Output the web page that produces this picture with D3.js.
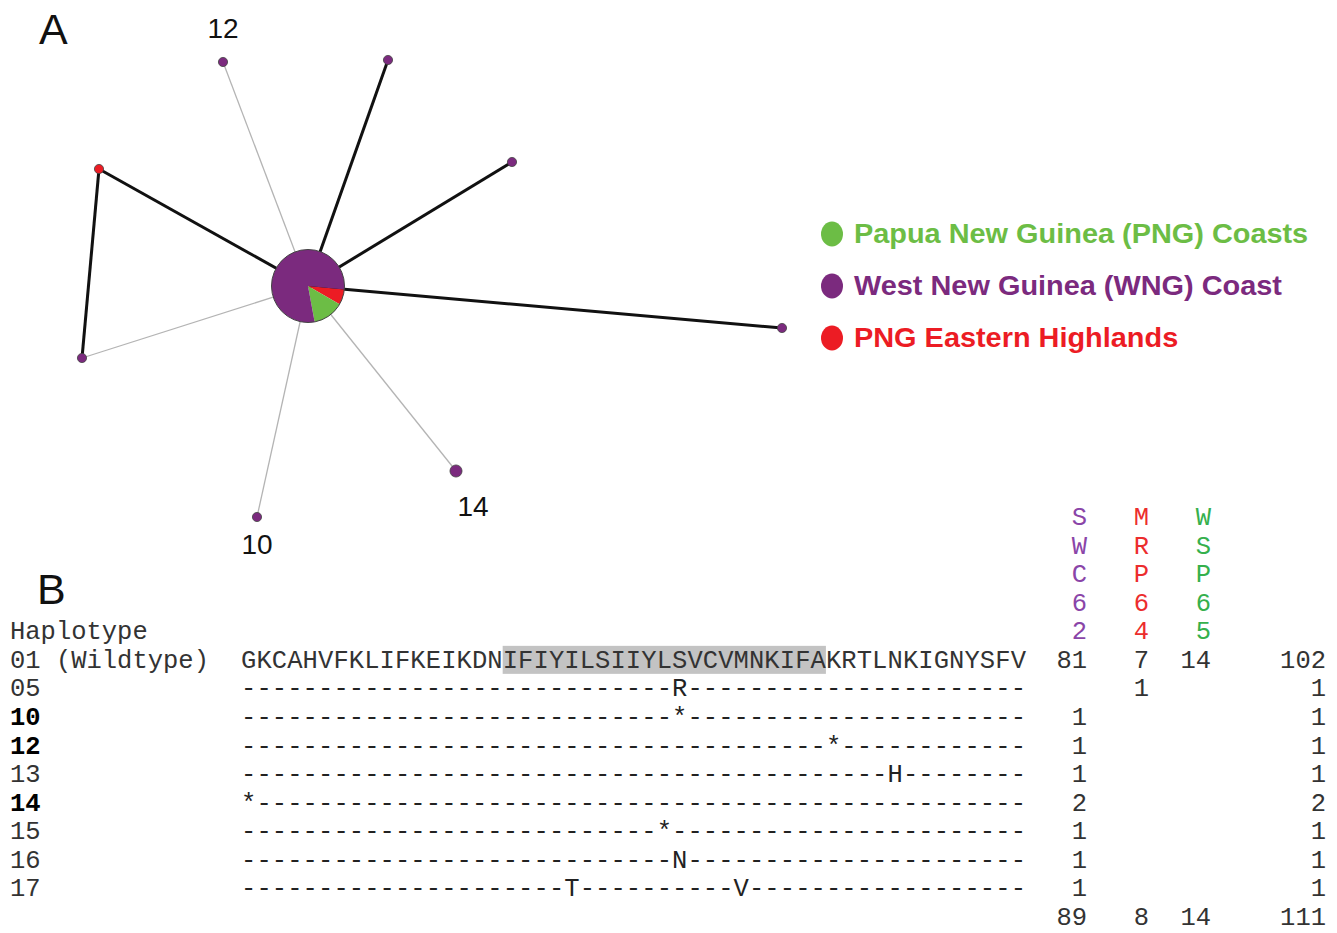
<!DOCTYPE html>
<html>
<head>
<meta charset="utf-8">
<script src="https://cdn.jsdelivr.net/npm/d3@7"></script>
<style>
  body { margin: 0; background: #fff; }
  svg { display: block; }
</style>
</head>
<body>
<svg id="chart" width="1337" height="933"></svg>
<script>
// ---- network data (layout units, hub at origin) ----
const nodeIds   = ['01', '12', '13', '15', '05', '16', '17', '14', '10'];
const nodeLx    = [0, -85, 80, 204, -209, -226, 474, 148, -51];
const nodeLy    = [0, -224, -226, -124, -117, 72, 42, 185, 231];
const nodeSWC   = [81, 1, 1, 1, 0, 1, 1, 2, 1];
const nodeMRP   = [7, 0, 0, 0, 1, 0, 0, 0, 0];
const nodeWSP   = [14, 0, 0, 0, 0, 0, 0, 0, 0];
const labelled  = ['12', '14', '10'];

const edgeFrom  = ['01', '01', '01', '01', '05', '16', '01', '01', '01'];
const edgeTo    = ['12', '13', '15', '05', '16', '01', '17', '14', '10'];
const edgeKind  = ['thin', 'thick', 'thick', 'thick', 'thick', 'thin', 'thick', 'thin', 'thin'];

const regions   = ['Papua New Guinea (PNG) Coasts', 'West New Guinea (WNG) Coast', 'PNG Eastern Highlands'];
const regionCol = ['#6cbd45', '#7b2a7e', '#ec1c24'];

// ---- alignment data ----
const wildtype  = 'GKCAHVFKLIFKEIKDNIFIYILSIIYLSVCVMNKIFAKRTLNKIGNYSFV';
const tmStart   = 17, tmEnd = 38;
const hapIds    = ['05', '10', '12', '13', '14', '15', '16', '17'];
const hapBold   = [false, true, true, false, true, false, false, false];
const hapMuts   = [[[28, 'R']], [[28, '*']], [[38, '*']], [[42, 'H']], [[0, '*']], [[27, '*']], [[28, 'N']], [[21, 'T'], [32, 'V']]];
const colNames  = ['SWC62', 'MRP64', 'WSP65'];
const colColors = ['#8a45a8', '#ec2d2d', '#35b04c'];
const wildCounts = [81, 7, 14, 102];
const hapSWC    = [null, 1, 1, 1, 2, 1, 1, 1];
const hapMRP    = [1, null, null, null, null, null, null, null];
const hapWSP    = [null, null, null, null, null, null, null, null];
const hapTotal  = [1, 1, 1, 1, 2, 1, 1, 1];
const colTotals = [89, 8, 14, 111];

const svg = d3.select('#chart');
const sans = 'Arial, "Liberation Sans", sans-serif';
const mono = '"Courier New", "Liberation Mono", monospace';

// ---------------- Panel A ----------------
const x = d3.scaleLinear().domain([-300, 500]).range([8, 808]);
const y = d3.scaleLinear().domain([-300, 300]).range([-14, 586]);
const r = d3.scaleSqrt().domain([1, 102]).range([4.6, 36.5]);

const nodes = nodeIds.map((id, i) => ({
  id, x: x(nodeLx[i]), y: y(nodeLy[i]),
  counts: [nodeWSP[i], nodeSWC[i], nodeMRP[i]],
  total: nodeSWC[i] + nodeMRP[i] + nodeWSP[i]
}));
const byId = new Map(nodes.map(n => [n.id, n]));
const edges = edgeFrom.map((f, i) => ({ s: byId.get(f), t: byId.get(edgeTo[i]), kind: edgeKind[i] }));

const gA = svg.append('g');
gA.selectAll('line.edge')
  .data(edges)
  .join('line')
  .attr('class', 'edge')
  .attr('x1', d => d.s.x).attr('y1', d => d.s.y)
  .attr('x2', d => d.t.x).attr('y2', d => d.t.y)
  .attr('stroke', d => d.kind === 'thick' ? '#111' : '#b4b4b4')
  .attr('stroke-width', d => d.kind === 'thick' ? 3 : 1.3);

// pie: red, green, then purple, starting just below 3 o'clock
const pie = d3.pie().sort(null).value(d => d.v)
  .startAngle(Math.PI * 0.53).endAngle(Math.PI * 0.53 + 2 * Math.PI);

const nodeG = gA.selectAll('g.node')
  .data(nodes)
  .join('g')
  .attr('class', 'node')
  .attr('transform', d => `translate(${d.x},${d.y})`);

nodeG.each(function(d) {
  const g = d3.select(this);
  const rad = r(d.total);
  const parts = [
    { v: d.counts[2], c: regionCol[2] },
    { v: d.counts[0], c: regionCol[0] },
    { v: d.counts[1], c: regionCol[1] }
  ].filter(p => p.v > 0);
  if (parts.length === 1) {
    g.append('circle').attr('r', rad).attr('fill', parts[0].c)
      .attr('stroke', '#444').attr('stroke-width', 0.8);
  } else {
    const arc = d3.arc().innerRadius(0).outerRadius(rad);
    g.selectAll('path').data(pie(parts)).join('path')
      .attr('d', arc).attr('fill', p => p.data.c);
    g.append('circle').attr('r', rad).attr('fill', 'none')
      .attr('stroke', '#444').attr('stroke-width', 1);
  }
});

// node labels
const labelOffset = { '12': [0, -24], '14': [17, 45], '10': [0, 37] };
gA.selectAll('text.nlab')
  .data(nodes.filter(n => labelled.includes(n.id)))
  .join('text')
  .attr('class', 'nlab')
  .attr('x', d => d.x + labelOffset[d.id][0])
  .attr('y', d => d.y + labelOffset[d.id][1])
  .attr('text-anchor', 'middle')
  .attr('font-family', sans).attr('font-size', 28)
  .attr('fill', '#111')
  .text(d => d.id);

svg.append('text').attr('x', 39).attr('y', 44)
  .attr('font-family', sans).attr('font-size', 43).attr('fill', '#111').text('A');

// legend (text in the figure is slightly stretched horizontally)
const legY = d3.scaleBand().domain(regions).range([208, 364]);
const leg = svg.append('g').selectAll('g').data(regions).join('g')
  .attr('transform', (d, i) => `translate(0,${legY(d) + legY.bandwidth() / 2})`);
leg.append('ellipse').attr('cx', 832).attr('cy', 0).attr('rx', 11).attr('ry', 12.5)
  .attr('fill', (d, i) => regionCol[i]);
leg.append('text')
  .attr('transform', 'translate(854,9) scale(1.07,1)')
  .attr('font-family', sans).attr('font-weight', 'bold').attr('font-size', 27)
  .attr('fill', (d, i) => regionCol[i])
  .text(d => d);

// ---------------- Panel B ----------------
svg.append('text').attr('x', 37).attr('y', 604)
  .attr('font-family', sans).attr('font-size', 43).attr('fill', '#111').text('B');

const rowY = d3.scaleLinear().domain([0, 14]).range([517, 917]); // row centres
const charX = d3.scaleLinear().domain([0, wildtype.length]).range([241, 1026]);
const fs = 25.5;
const base = 8; // centre -> baseline

const gB = svg.append('g').attr('font-family', mono).attr('font-size', fs);

// highlighted transmembrane block
gB.append('rect')
  .attr('x', charX(tmStart)).attr('width', charX(tmEnd) - charX(tmStart))
  .attr('y', rowY(5) - 14).attr('height', 28)
  .attr('fill', '#c3c3c3');

gB.append('text').attr('x', 10).attr('y', rowY(4) + base).attr('fill', '#333').text('Haplotype');
gB.append('text').attr('x', 10).attr('y', rowY(5) + base).attr('fill', '#333')
  .style('white-space', 'pre').text('01 (Wildtype)');

const wtChars = wildtype.split('');
gB.append('g').selectAll('text').data(wtChars).join('text')
  .attr('x', (c, i) => charX(i + 0.5)).attr('y', rowY(5) + base)
  .attr('text-anchor', 'middle').attr('fill', '#333')
  .text(c => c);

hapIds.forEach((id, k) => {
  const row = 6 + k;
  gB.append('text').attr('x', 10).attr('y', rowY(row) + base)
    .attr('fill', hapBold[k] ? '#000' : '#333')
    .attr('font-weight', hapBold[k] ? 'bold' : 'normal')
    .text(id);
  const muts = new Map(hapMuts[k]);
  const chars = wtChars.map((c, i) => muts.has(i) ? muts.get(i) : '-');
  gB.append('g').selectAll('text').data(chars).join('text')
    .attr('x', (c, i) => charX(i + 0.5)).attr('y', rowY(row) + base)
    .attr('text-anchor', 'middle').attr('fill', '#222')
    .text(c => c);
});

// count columns
const colRight = [1087, 1149, 1211, 1326];
const charW = charX(1) - charX(0);
colNames.forEach((name, j) => {
  name.split('').forEach((c, i) => {
    gB.append('text').attr('x', colRight[j] - charW / 2).attr('y', rowY(i) + base)
      .attr('text-anchor', 'middle').attr('fill', colColors[j]).text(c);
  });
});

const countRows = [wildCounts].concat(hapIds.map((id, k) => [hapSWC[k], hapMRP[k], hapWSP[k], hapTotal[k]]));
countRows.push(colTotals);
countRows.forEach((vals, k) => {
  vals.forEach((v, j) => {
    if (v == null) return;
    gB.append('text').attr('x', colRight[j]).attr('y', rowY(5 + k) + base)
      .attr('text-anchor', 'end').attr('fill', '#333').text(v);
  });
});
</script>
</body>
</html>
